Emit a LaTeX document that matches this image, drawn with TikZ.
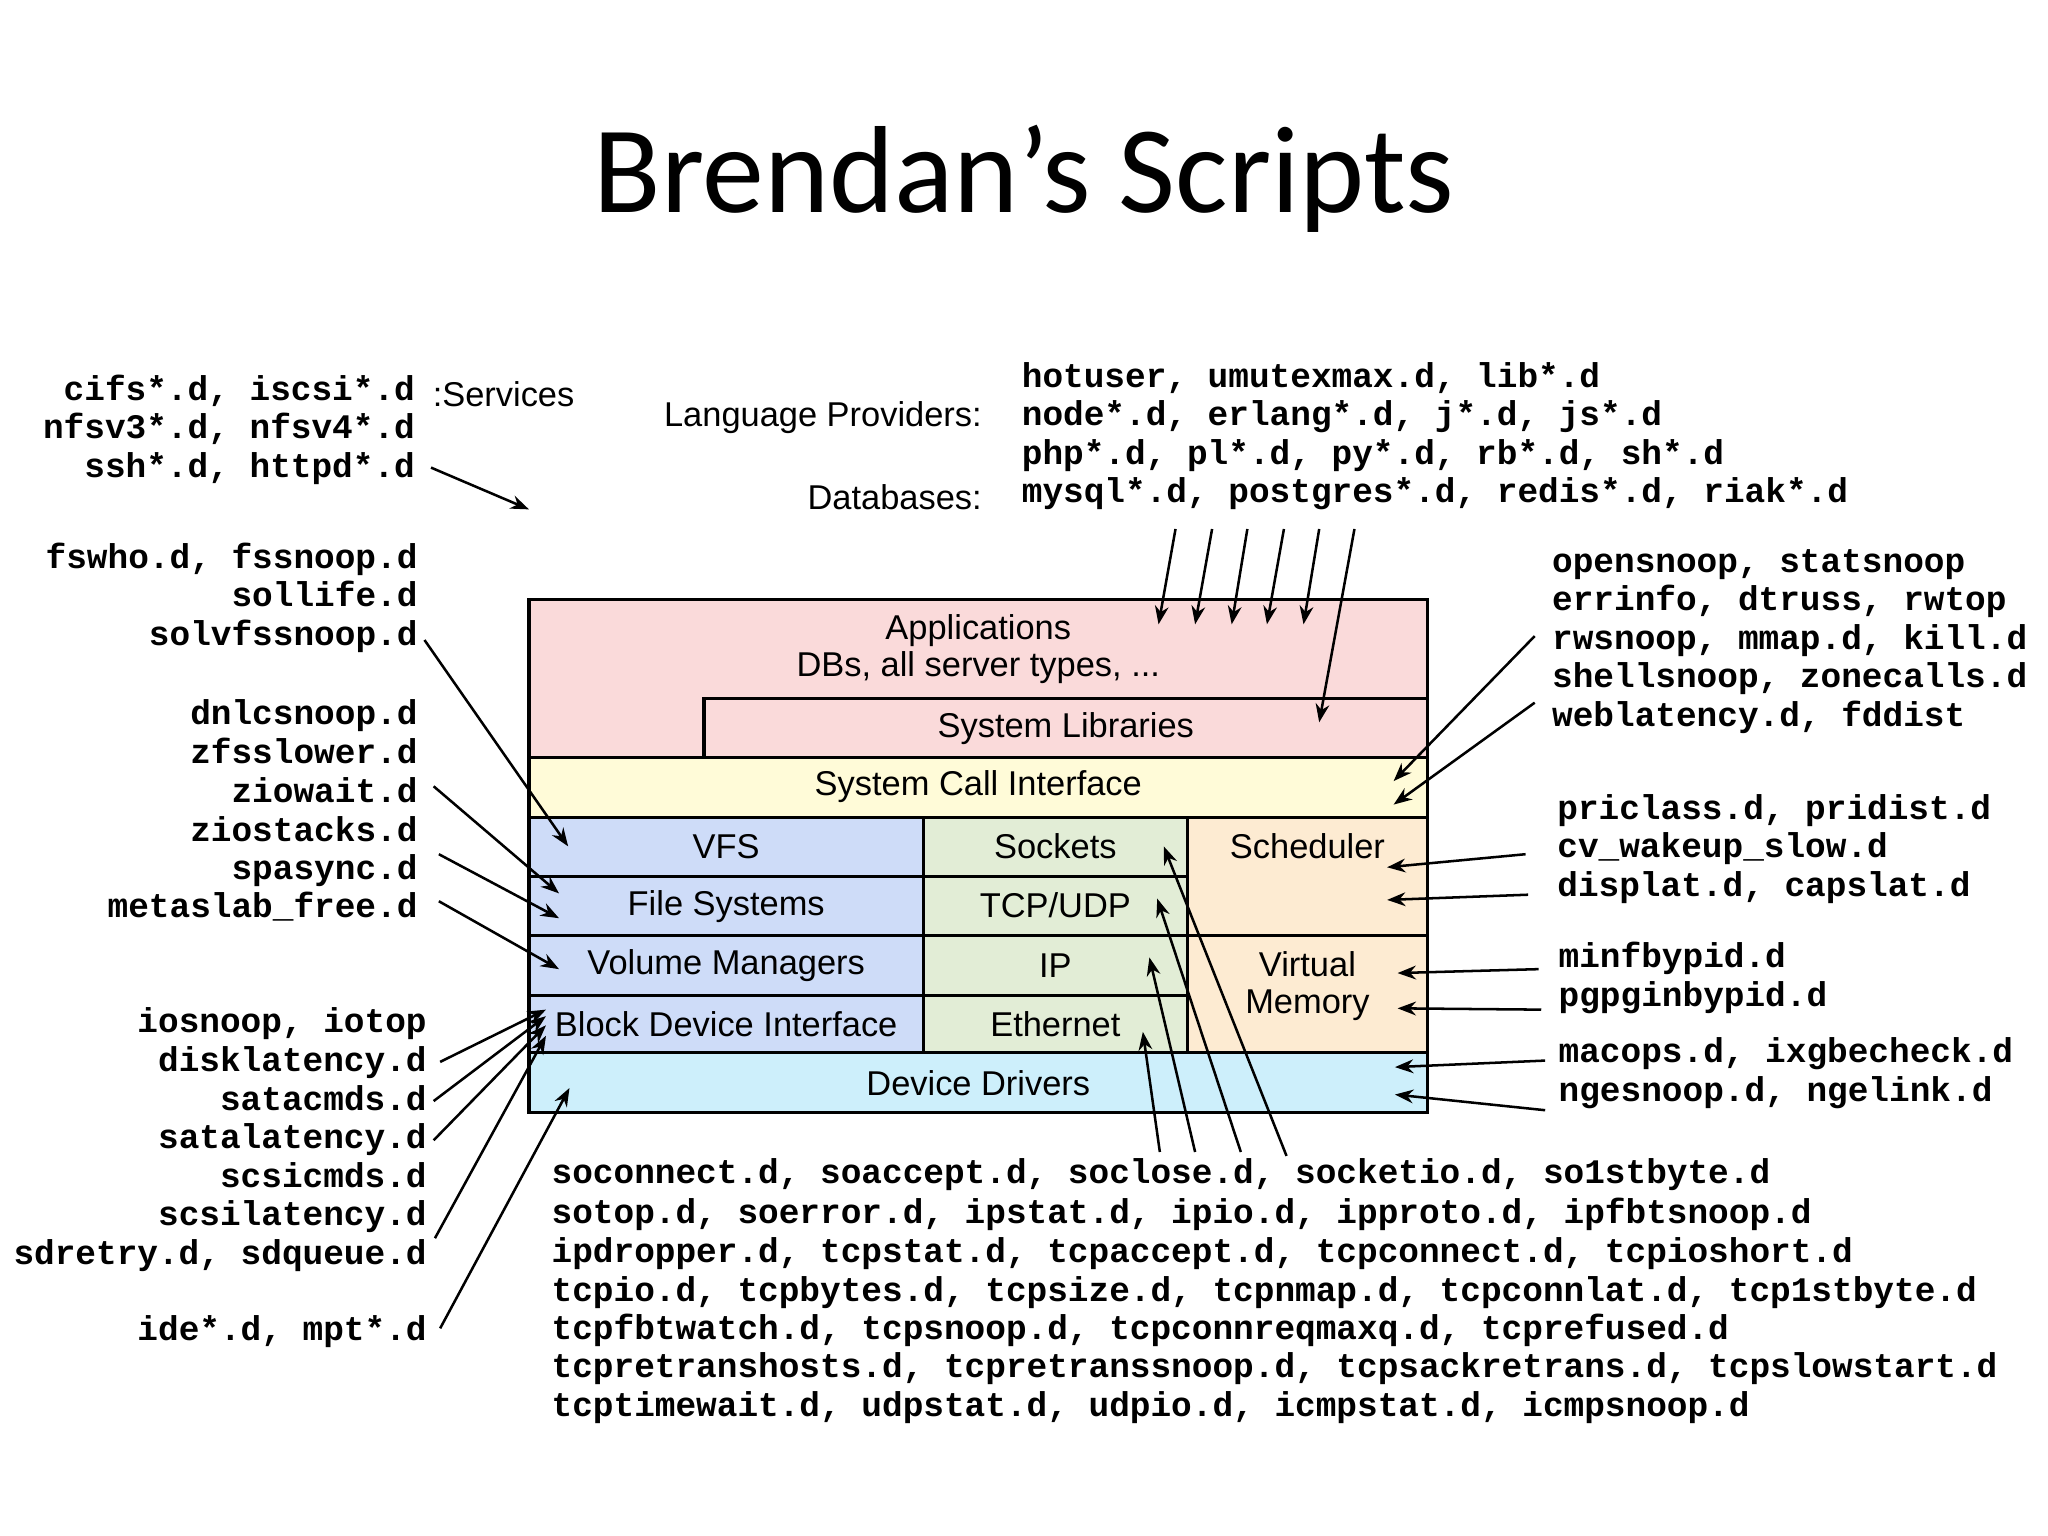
\documentclass[tikz,border=0pt]{standalone}
\usepackage{fontspec}
\setmainfont{Liberation Sans}
\newfontfamily\titlefont{Carlito}
\newfontfamily\mono{Liberation Mono}
\usetikzlibrary{arrows.meta}
\definecolor{cpink}{HTML}{FADADA}
\definecolor{cyel}{HTML}{FFFBD8}
\definecolor{cblue}{HTML}{CEDCF8}
\definecolor{cgreen}{HTML}{E2EDD6}
\definecolor{corange}{HTML}{FDEBD2}
\definecolor{ccyan}{HTML}{CDEFFB}
\begin{document}
\begin{tikzpicture}[x=0.02cm,y=-0.02cm,
  lay/.style={draw=black,line width=1.4pt},
  lbl/.style={font=\fontsize{15}{17}\selectfont,inner sep=0pt},
  mt/.style={font=\mono\bfseries\fontsize{15}{17}\selectfont,inner sep=0pt,text height=8pt,text depth=3pt},
  arr/.style={-{Stealth[length=8pt,width=6pt]},line width=1.1pt}]
\useasboundingbox (0,0) rectangle (1568,1176);
\node[font=\titlefont\fontsize{54}{60}\selectfont] (title) at (784,137) {Brendan’s Scripts};
% boxes
\draw[lay,fill=cpink] (405,459) rectangle (1093,580);
\draw[lay,fill=cpink] (539,535) rectangle (1093,580);
\draw[lay,fill=cyel] (405,580) rectangle (1093,626);
\draw[lay,fill=cblue] (405,626) rectangle (707,671);
\draw[lay,fill=cblue] (405,671) rectangle (707,716);
\draw[lay,fill=cblue] (405,716) rectangle (707,762);
\draw[lay,fill=cblue] (405,762) rectangle (707,806);
\draw[lay,fill=cgreen] (707,626) rectangle (909,671);
\draw[lay,fill=cgreen] (707,671) rectangle (909,716);
\draw[lay,fill=cgreen] (707,716) rectangle (909,762);
\draw[lay,fill=cgreen] (707,762) rectangle (909,806);
\draw[lay,fill=corange] (909,626) rectangle (1093,716);
\draw[lay,fill=corange] (909,716) rectangle (1093,806);
\draw[lay,fill=ccyan] (405,806) rectangle (1093,852);
\node[lbl,align=center] (app) at (749,497) {Applications\\[-1pt]DBs, all server types, ...};
\node[lbl] (syslib) at (816,558) {System Libraries};
\node[lbl] (sci) at (749,602) {System Call Interface};
\node[lbl] (vfs) at (556,648) {VFS};
\node[lbl] (fs) at (556,694) {File Systems};
\node[lbl] (vm) at (556,739) {Volume Managers};
\node[lbl] (bdi) at (556,784) {Block Device Interface};
\node[lbl] (sock) at (808,648) {Sockets};
\node[lbl] (tcp) at (808,693) {TCP/UDP};
\node[lbl] (ip) at (808,739) {IP};
\node[lbl] (eth) at (808,784) {Ethernet};
\node[lbl] (sch) at (1001,648) {Scheduler};
\node[lbl,align=center] (vmem) at (1001,755) {Virtual\\[-1pt]Memory};
\node[lbl] (dd) at (749,829) {Device Drivers};
% left texts
\node[mt,anchor=east] (l1) at (318,302) {cifs*.d, iscsi*.d};
\node[lbl,anchor=west] (svc) at (331,302) {:Services};
\node[mt,anchor=east] (l2) at (318,331) {nfsv3*.d, nfsv4*.d};
\node[mt,anchor=east] (l3) at (318,361) {ssh*.d, httpd*.d};
\node[mt,anchor=east] (f1) at (320,431) {fswho.d, fssnoop.d};
\node[mt,anchor=east] (f2) at (320,460) {sollife.d};
\node[mt,anchor=east] (f3) at (320,490) {solvfssnoop.d};
\node[mt,anchor=east] (z1) at (320,550) {dnlcsnoop.d};
\node[mt,anchor=east] (z2) at (320,580) {zfsslower.d};
\node[mt,anchor=east] (z3) at (320,610) {ziowait.d};
\node[mt,anchor=east] (z4) at (320,640) {ziostacks.d};
\node[mt,anchor=east] (z5) at (320,669) {spasync.d};
\node[mt,anchor=east] (z6) at (320,698) {metaslab\_free.d};
\node[mt,anchor=east] (b1) at (327,786) {iosnoop, iotop};
\node[mt,anchor=east] (b2) at (327,816) {disklatency.d};
\node[mt,anchor=east] (b3) at (327,846) {satacmds.d};
\node[mt,anchor=east] (b4) at (327,875) {satalatency.d};
\node[mt,anchor=east] (b5) at (327,905) {scsicmds.d};
\node[mt,anchor=east] (b6) at (327,934) {scsilatency.d};
\node[mt,anchor=east] (b7) at (327,964) {sdretry.d, sdqueue.d};
\node[mt,anchor=east] (b8) at (327,1022) {ide*.d, mpt*.d};
% top texts
\node[lbl,anchor=east] (lp) at (752,320) {Language Providers:};
\node[lbl,anchor=east] (dbs) at (752,381) {Databases:};
\node[mt,anchor=west] (t1) at (782,292) {hotuser, umutexmax.d, lib*.d};
\node[mt,anchor=west] (t2) at (782,321) {node*.d, erlang*.d, j*.d, js*.d};
\node[mt,anchor=west] (t3) at (782,351) {php*.d, pl*.d, py*.d, rb*.d, sh*.d};
\node[mt,anchor=west] (t4) at (782,380) {mysql*.d, postgres*.d, redis*.d, riak*.d};
% right texts
\node[mt,anchor=west] (r1) at (1188,434) {opensnoop, statsnoop};
\node[mt,anchor=west] (r2) at (1188,463) {errinfo, dtruss, rwtop};
\node[mt,anchor=west] (r3) at (1188,493) {rwsnoop, mmap.d, kill.d};
\node[mt,anchor=west] (r4) at (1188,522) {shellsnoop, zonecalls.d};
\node[mt,anchor=west] (r5) at (1188,552) {weblatency.d, fddist};
\node[mt,anchor=west] (s1) at (1192,623) {priclass.d, pridist.d};
\node[mt,anchor=west] (s2) at (1192,652) {cv\_wakeup\_slow.d};
\node[mt,anchor=west] (s3) at (1192,682) {displat.d, capslat.d};
\node[mt,anchor=west] (m1) at (1193,736) {minfbypid.d};
\node[mt,anchor=west] (m2) at (1193,766) {pgpginbypid.d};
\node[mt,anchor=west] (d1) at (1193,809) {macops.d, ixgbecheck.d};
\node[mt,anchor=west] (d2) at (1193,839) {ngesnoop.d, ngelink.d};
% bottom texts
\node[mt,anchor=west] (n1) at (422,902) {soconnect.d, soaccept.d, soclose.d, socketio.d, so1stbyte.d};
\node[mt,anchor=west] (n2) at (422,932) {sotop.d, soerror.d, ipstat.d, ipio.d, ipproto.d, ipfbtsnoop.d};
\node[mt,anchor=west] (n3) at (422,962) {ipdropper.d, tcpstat.d, tcpaccept.d, tcpconnect.d, tcpioshort.d};
\node[mt,anchor=west] (n4) at (422,992) {tcpio.d, tcpbytes.d, tcpsize.d, tcpnmap.d, tcpconnlat.d, tcp1stbyte.d};
\node[mt,anchor=west] (n5) at (422,1021) {tcpfbtwatch.d, tcpsnoop.d, tcpconnreqmaxq.d, tcprefused.d};
\node[mt,anchor=west] (n6) at (422,1050) {tcpretranshosts.d, tcpretranssnoop.d, tcpsackretrans.d, tcpslowstart.d};
\node[mt,anchor=west] (n7) at (422,1080) {tcptimewait.d, udpstat.d, udpio.d, icmpstat.d, icmpsnoop.d};
% arrow end coordinates
\foreach \n/\x/\y in {a1/405/390,a2/435/648,a3/428/684,a4/428/703,a5/428/742,
  a6/418/773,a7/418/778,a8/418/785,a9/418/793,a10/436/833,
  u1/887/478,u2/915/478,u3/943/478,u4/970/478,u5/998/478,u6/1010/553,
  v1/1067/598,v2/1067/616,v3/1062/664,v4/1062/689,v5/1070/745,v6/1070/772,v7/1068/817,v8/1068/838,
  w1/875/790,w2/880/733,w3/886/688,w4/891/648}
  \coordinate (\n) at (\x,\y);
\foreach \n/\x/\y in {p1/330/358,p2/325/490,p3/332/602,p4/336/654,p5/336/690,
  p6/337/813,p7/332/843,p8/332/873,p9/333/948,p10/337/1017,
  q1/900/405,q2/928/405,q3/955/405,q4/983/405,q5/1010/405,q6/1037/405,
  o1/1175/487,o2/1175/538,o3/1168/654,o4/1170/685,o5/1178/742,o6/1180/773,o7/1183/812,o8/1183/850,
  k1/888/882,k2/915/882,k3/950/882,k4/985/885}
  \coordinate (\n) at (\x,\y);
\foreach \s/\e in {p1/a1,p2/a2,p3/a3,p4/a4,p5/a5,p6/a6,p7/a7,p8/a8,p9/a9,p10/a10,
  q1/u1,q2/u2,q3/u3,q4/u4,q5/u5,q6/u6,o1/v1,o2/v2,o3/v3,o4/v4,o5/v5,o6/v6,o7/v7,o8/v8,
  k1/w1,k2/w2,k3/w3,k4/w4}
  \draw[arr] (\s) -- (\e);
\end{tikzpicture}
\end{document}
